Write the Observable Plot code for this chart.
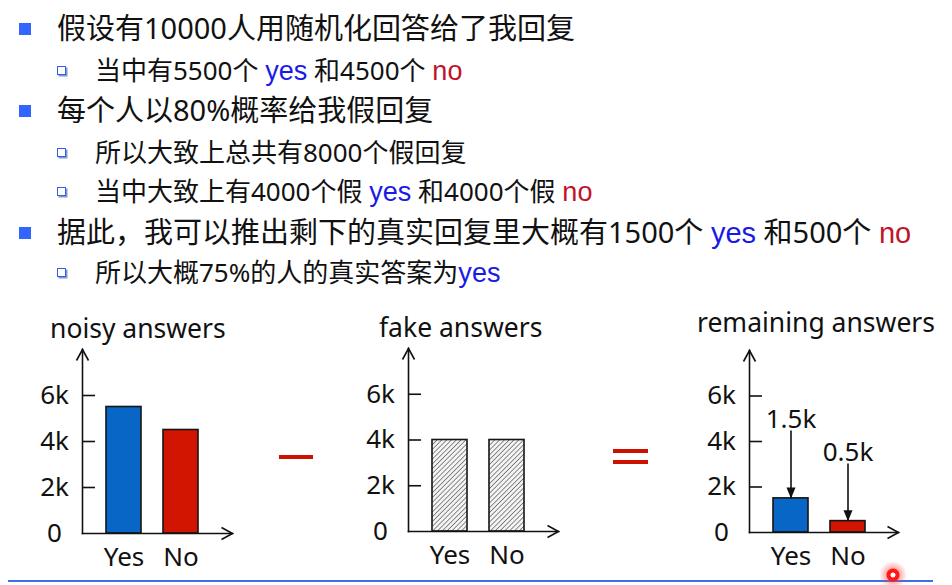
<!DOCTYPE html>
<html><head><meta charset="utf-8">
<script src="https://cdn.jsdelivr.net/npm/d3@7"></script>
<script src="https://cdn.jsdelivr.net/npm/@observablehq/plot@0.6"></script>
<style>
html,body{margin:0;padding:0;background:#fff;}
#slide{position:relative;width:952px;height:585px;overflow:hidden;background:#fff;font-family:"Noto Sans","Noto Sans CJK SC",sans-serif;color:#111;}
.line{position:absolute;white-space:nowrap;}
.l1{left:57px;font-size:29px;line-height:36px;}
.l2{left:95px;font-size:26px;line-height:34px;}
.y{color:#1a1ae6;font-family:"Liberation Sans",Arial,sans-serif;}
.n{color:#c0142a;font-family:"Liberation Sans",Arial,sans-serif;}
.l2 .y,.l2 .n{font-size:1.04em;}
.b1{position:absolute;left:19px;width:12px;height:12px;background:#3366ff;}
.b2{position:absolute;left:57px;width:7px;height:7px;border:1.5px solid #2f5df0;box-shadow:1.5px 1.5px 0 #8899bb;}
.ctitle{position:absolute;font-family:"Noto Sans",sans-serif;font-size:26.5px;line-height:26px;color:#111;white-space:nowrap;z-index:2;}
.chart{position:absolute;top:340px;}
.chart svg{overflow:visible;background:transparent;}
.op{position:absolute;background:#cc1100;height:4px;}
</style>
</head>
<body>
<svg width="0" height="0" style="position:absolute">
  <defs>
    <marker id="chev" viewBox="0 0 14 14" markerUnits="userSpaceOnUse" markerWidth="14" markerHeight="14" refX="11" refY="6.5" orient="auto-start-reverse" overflow="visible">
      <path d="M0,0.5 L11,6.5 L0,12.5" fill="none" stroke="#111" stroke-width="1.6"/>
    </marker>
    <marker id="tri" viewBox="0 0 12 10" markerUnits="userSpaceOnUse" markerWidth="12" markerHeight="10" refX="11" refY="4.5" orient="auto" overflow="visible">
      <path d="M0,0 L11,4.5 L0,9 Z" fill="#111"/>
    </marker>
    <pattern id="hatch" patternUnits="userSpaceOnUse" width="3.4" height="3.4" patternTransform="rotate(45)">
      <rect width="3.4" height="3.4" fill="#f4f4f4"/>
      <line x1="0" y1="0" x2="0" y2="3.4" stroke="#505050" stroke-width="1.3"/>
    </pattern>
  </defs>
</svg>
<div id="slide">
  <div class="b1" style="top:23px"></div>
  <div class="line l1" style="top:10px">假设有10000人用随机化回答给了我回复</div>
  <div class="b2" style="top:66px"></div>
  <div class="line l2" style="top:53px">当中有5500个 <span class="y">yes</span> 和4500个 <span class="n">no</span></div>
  <div class="b1" style="top:105px"></div>
  <div class="line l1" style="top:92px">每个人以80%概率给我假回复</div>
  <div class="b2" style="top:148px"></div>
  <div class="line l2" style="top:135px">所以大致上总共有8000个假回复</div>
  <div class="b2" style="top:187px"></div>
  <div class="line l2" style="top:174px">当中大致上有4000个假 <span class="y">yes</span> 和4000个假 <span class="n">no</span></div>
  <div class="b1" style="top:227px"></div>
  <div class="line l1" style="top:214px">据此，我可以推出剩下的真实回复里大概有1500个 <span class="y">yes</span> 和500个 <span class="n">no</span></div>
  <div class="b2" style="top:268px"></div>
  <div class="line l2" style="top:255px">所以大概75%的人的真实答案为<span class="y">yes</span></div>

  <div id="t0" class="ctitle" style="left:50px;top:315px"></div>
  <div id="t1" class="ctitle" style="left:379px;top:314px"></div>
  <div id="t2" class="ctitle" style="left:697px;top:309px"></div>

  <div id="c0" class="chart" style="left:0px"></div>
  <div id="c1" class="chart" style="left:320px"></div>
  <div id="c2" class="chart" style="left:660px"></div>

  <div class="op" style="left:279px;top:455px;width:34px"></div>
  <div class="op" style="left:613px;top:449px;width:35px"></div>
  <div class="op" style="left:613px;top:460px;width:35px"></div>

  <div style="position:absolute;left:8px;top:580px;width:925px;height:2px;background:#3d6fe8"></div>
  <div style="position:absolute;left:879px;top:561px;width:28px;height:28px;border-radius:50%;background:radial-gradient(circle, #fff 0 2.2px, #ff1a1a 2.8px 6px, rgba(255,60,60,0.4) 7px, rgba(255,120,120,0) 14px)"></div>
</div>
<script>
const answers = ["Yes", "No"];
const noisyCounts = [5500, 4500];
const fakeCounts = [4000, 4000];
const remainingCounts = [1500, 500];
const yTicks = [0, 2000, 4000, 6000];
const yMax = 8000;
const calloutLabels = ["1.5k", "0.5k"];
const titles = ["noisy answers", "fake answers", "remaining answers"];
const barColors = ["#0866c6", "#d21500"];

titles.forEach((t, i) => { document.getElementById("t" + i).textContent = t; });

const fmt = d => d === 0 ? "0" : (d / 1000) + "k";

function makeChart(el, cfg) {
  const W = 260, H = 240, top = 340;
  const data = answers.map((a, i) => ({answer: a, count: cfg.counts[i], label: cfg.labels ? cfg.labels[i] : null}));
  const mL = cfg.axisX - cfg.left, mR = W - (cfg.rightX - cfg.left);
  const mT = cfg.topY - top, mB = H - (cfg.baseY - top);
  const frameW = cfg.rightX - cfg.axisX;
  const marks = [
    Plot.barY(data, {
      x: "answer", y: "count",
      fill: cfg.hatch ? "url(#hatch)" : "answer",
      stroke: "#151515", strokeWidth: 1.6
    }),
    Plot.ruleY(yTicks.filter(t => t > 0), {stroke: "#111", strokeWidth: 1.6, insetRight: frameW - 13}),
    Plot.axisY(yTicks, {tickSize: 0, tickPadding: 28, textAnchor: "middle", tickFormat: fmt, fontSize: 26, label: null}),
    Plot.axisX({tickSize: 0, tickPadding: 14, fontSize: 26, label: null}),
    Plot.frame({anchor: "left", stroke: "#111", strokeWidth: 1.6}),
    Plot.frame({anchor: "bottom", stroke: "#111", strokeWidth: 1.6})
  ];
  if (cfg.labels) {
    const lift = {Yes: 2980, No: 2530};
    marks.push(
      Plot.link(data, {x1: "answer", x2: "answer", y1: d => d.count + lift[d.answer], y2: "count", stroke: "#111", strokeWidth: 1.6}),
      Plot.text(data, {x: "answer", y: d => d.count + lift[d.answer], text: "label", dy: -11, fontSize: 26, fill: "#111"})
    );
  }
  const svg = Plot.plot({
    width: W, height: H,
    marginLeft: mL, marginRight: mR, marginTop: mT, marginBottom: mB,
    style: {fontFamily: "'Noto Sans', sans-serif", fontSize: "26px", color: "#111", background: "transparent", overflow: "visible"},
    x: {type: "band", domain: answers, range: [mL + 23, mL + 116], paddingInner: 0.39, paddingOuter: 0},
    y: {domain: [0, yMax]},
    color: {domain: answers, range: barColors},
    marks
  });
  d3.select(svg).selectAll('[aria-label="frame"]').each(function() {
    const ln = this.tagName.toLowerCase() === "line" ? this : this.querySelector("line");
    if (!ln) return;
    const x1 = +ln.getAttribute("x1"), x2 = +ln.getAttribute("x2");
    const y1 = +ln.getAttribute("y1"), y2 = +ln.getAttribute("y2");
    if (Math.abs(x1 - x2) < 0.5) {
      ln.setAttribute(y1 < y2 ? "marker-start" : "marker-end", "url(#chev)");
    } else {
      ln.setAttribute(x2 > x1 ? "marker-end" : "marker-start", "url(#chev)");
    }
  });
  d3.select(svg).selectAll('[aria-label="link"] path').attr("marker-end", "url(#tri)");
  el.appendChild(svg);
}

makeChart(document.getElementById("c0"), {counts: noisyCounts, left: 0, axisX: 82, rightX: 232, baseY: 533, topY: 349});
makeChart(document.getElementById("c1"), {counts: fakeCounts, hatch: true, left: 320, axisX: 408, rightX: 558, baseY: 531, topY: 348});
makeChart(document.getElementById("c2"), {counts: remainingCounts, labels: calloutLabels, left: 660, axisX: 749, rightX: 898, baseY: 532, topY: 350});
</script>
</body></html>
